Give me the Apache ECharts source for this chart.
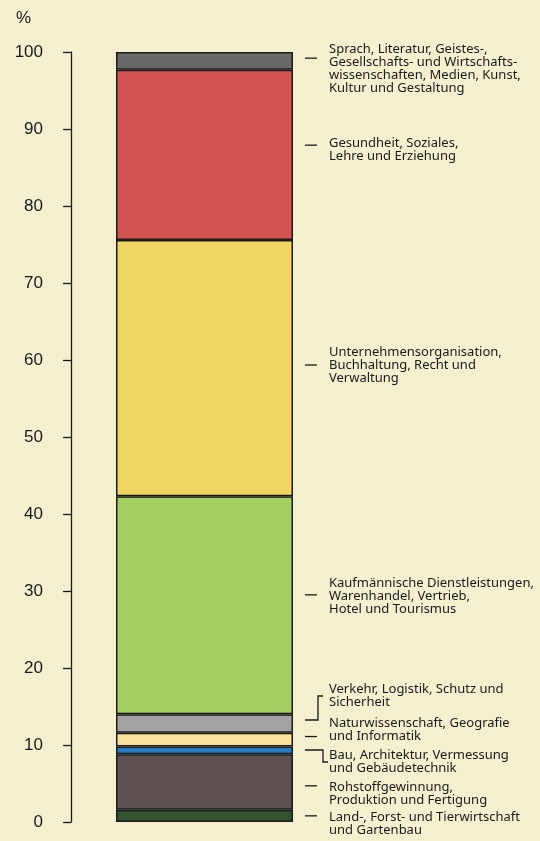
<!DOCTYPE html>
<html>
<head>
<meta charset="utf-8">
<script src="https://cdn.jsdelivr.net/npm/echarts@6/dist/echarts.min.js"></script>
<style>
  html, body { margin: 0; padding: 0; background: #f4efcf; }
  #chart { width: 540px; height: 841px; }
</style>
</head>
<body>
<div id="chart"></div>
<script>
// Anteile in % (von unten nach oben)
const categories = [
  'Land-, Forst- und Tierwirtschaft\nund Gartenbau',
  'Rohstoffgewinnung,\nProduktion und Fertigung',
  'Bau, Architektur, Vermessung\nund Gebäudetechnik',
  'Naturwissenschaft, Geografie\nund Informatik',
  'Verkehr, Logistik, Schutz und\nSicherheit',
  'Kaufmännische Dienstleistungen,\nWarenhandel, Vertrieb,\nHotel und Tourismus',
  'Unternehmensorganisation,\nBuchhaltung, Recht und\nVerwaltung',
  'Gesundheit, Soziales,\nLehre und Erziehung',
  'Sprach, Literatur, Geistes-,\nGesellschafts- und Wirtschafts-\nwissenschaften, Medien, Kunst,\nKultur und Gestaltung'
]
const shares = [1.6, 7.2, 1.0, 1.8, 2.4, 28.3, 33.3, 22.1, 2.3]
// Höhe (in %) an der die Führungslinie jeder Beschriftung ansetzt
const labelAnchors = [0.8, 4.7, 9.35, 11.1, 13.25, 29.5, 59.35, 87.9, 99.2]
const yTicks = [0, 10, 20, 30, 40, 50, 60, 70, 80, 90, 100]

// Layout/Stil (nicht Daten)
const colors = ['#33512f', '#5e5152', '#2a7cc2', '#f7e29b', '#a3a3a3', '#a4ce62', '#f0d662', '#d35352', '#686868']
const textShift = [8, 8, 12, -7, -24, 1, 0, 5, 11]   // Textmitte relativ zur Führungslinie (px)
const bracket = [false, false, true, false, true, false, false, false, false]
const barWidth = 177

let chart = echarts.init(document.getElementById('chart'))

const barSeries = shares.map((v, i) => ({
  name: categories[i],
  type: 'bar',
  stack: 'total',
  barWidth: barWidth,
  data: [v],
  itemStyle: {
    color: colors[i],
    borderColor: '#1a1a1a',
    borderWidth: 1.5
  }
}))

let option = {
  backgroundColor: '#f4efcf',
  animation: false,
  title: {
    text: '%',
    left: 11,
    top: 5,
    textStyle: { fontFamily: 'Liberation Sans', fontSize: 17, fontWeight: 'normal', color: '#1a1a1a' }
  },
  grid: { left: 71, top: 52, bottom: 19, width: 267 },
  xAxis: { type: 'category', data: [''], show: false },
  yAxis: {
    type: 'value',
    min: 0,
    max: 100,
    interval: 10,
    axisLine: { show: true, onZero: false, lineStyle: { color: '#1a1a1a', width: 1.3 } },
    axisTick: { show: true, inside: false, length: 8, lineStyle: { color: '#1a1a1a', width: 1.3 } },
    splitLine: { show: false },
    axisLabel: {
      margin: 28,
      fontFamily: 'Liberation Sans',
      fontSize: 17,
      color: '#1a1a1a',
      formatter: v => yTicks.includes(v) ? String(v) : ''
    }
  },
  series: barSeries.concat([{
    type: 'custom',
    clip: false,
    silent: true,
    z: 5,
    data: labelAnchors.map((a, i) => [0, a, i]),
    renderItem: function (params, api) {
      const i = api.value(2)
      const p = api.coord([api.value(0), api.value(1)])
      const x0 = p[0] + barWidth / 2 + 12
      const y0 = p[1]
      const yt = y0 + textShift[i]
      let pts
      if (bracket[i]) {
        const xk = x0 + (textShift[i] < 0 ? 13 : 18)
        pts = [[x0, y0], [xk, y0], [xk, yt], [xk + 5, yt]]
      } else {
        pts = [[x0, y0], [x0 + 12, y0]]
      }
      return {
        type: 'group',
        children: [
          {
            type: 'polyline',
            shape: { points: pts },
            style: { stroke: '#1a1a1a', lineWidth: 1.3, fill: null }
          },
          {
            type: 'text',
            style: {
              text: categories[i],
              x: x0 + 24,
              y: yt,
              verticalAlign: 'middle',
              align: 'left',
              fontFamily: 'Noto Sans',
              fontSize: 13,
              lineHeight: 13,
              fill: '#1a1a1a'
            }
          }
        ]
      }
    }
  }])
}
chart.setOption(option)
</script>
</body>
</html>
